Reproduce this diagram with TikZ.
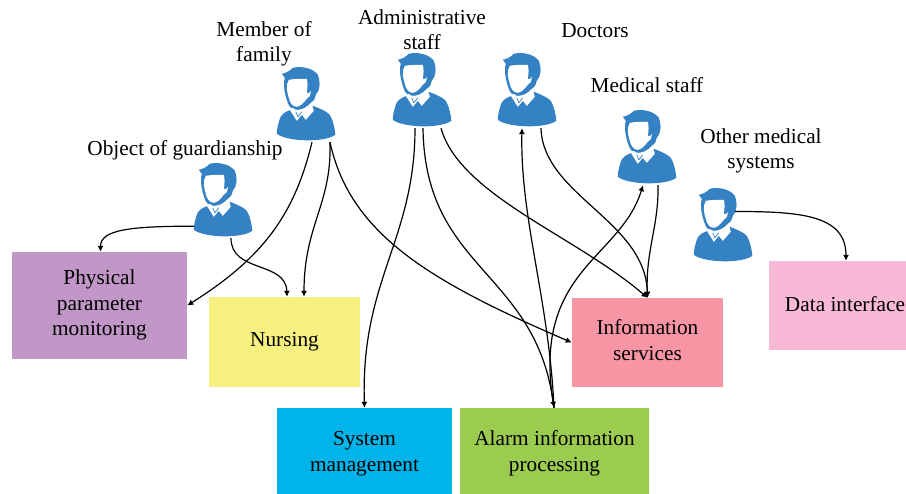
\documentclass[tikz,border=0pt]{standalone}
\usepackage{fontspec}
\setmainfont{Liberation Serif}
\usetikzlibrary{arrows.meta}
\tikzset{pics/personicon/.style={code={
  \fill[iconblue] (5,7) .. controls (10,6) and (13,4) .. (16,1) .. controls (24,-1) and (36,1) .. (41,8)
    .. controls (44,16) and (43,24) .. (39,28) .. controls (38,33) and (36,35) .. (34,36)
    .. controls (29,41) and (25,43) .. (21,43) .. controls (15,43) and (12,40) .. (11,36)
    .. controls (8,28) and (6,18) .. (8,11) -- cycle;
  \fill[white] (12,13) .. controls (18,12) and (25,12) .. (30,12) .. controls (31,16) and (31,20) .. (30,26)
    .. controls (32,27) and (33,26) .. (34,24) .. controls (34,29) and (32,31) .. (30,32)
    .. controls (27,36) and (23,40) .. (20,40) .. controls (15,40) and (13,35) .. (12,31)
    .. controls (10,25) and (9,18) .. (12,13) -- cycle;
  \fill[iconblue] (14,43) .. controls (8,45) and (4,48) .. (3,52) .. controls (1,58) and (0,63) .. (0,67)
    .. controls (10,75) and (48,76) .. (58.5,68) .. controls (58,60) and (55,50) .. (52,47)
    .. controls (47,43) and (41,41) .. (36,39) -- (25,44) -- (19,44) -- cycle;
  \fill[white] (13,43) -- (20,54) -- (25,48) -- (29,53) -- (37,44) -- (35,37) -- (27,42) -- (19,44) -- (16,41) -- cycle;
  \draw[iconblue,line width=0.7] (19,45) -- (21,50) -- (25,45);
}}}
\begin{document}
\begin{tikzpicture}[x=1pt,y=-1pt]
\definecolor{iconblue}{HTML}{3481C4}
\definecolor{purplebox}{HTML}{C197C7}
\definecolor{yellowbox}{HTML}{F5F080}
\definecolor{bluebox}{HTML}{00B3E8}
\definecolor{greenbox}{HTML}{9BCC50}
\definecolor{redbox}{HTML}{F795A5}
\definecolor{pinkbox}{HTML}{F7B9D5}
\tikzstyle{person}=[rectangle,minimum width=60pt,minimum height=75pt,inner sep=0pt]
\tikzstyle{block}=[rectangle,inner sep=0pt]
\tikzstyle{caption}=[inner sep=0pt,align=center,font=\fontsize{21.3}{25.5}\selectfont]
\tikzstyle{edge}=[draw,line width=1.2pt,-{Latex[length=6pt,width=6pt]}]
\useasboundingbox (0,0) rectangle (906,494);
\node[block,fill=purplebox,minimum width=175pt,minimum height=107pt] (monitoring) at (99.5,305.5) {};
\node[caption] (monitoringtext) at (99.5,305) {Physical\\parameter\\monitoring};
\node[block,fill=yellowbox,minimum width=151pt,minimum height=90pt] (nursing) at (284.5,342) {};
\node[caption] (nursingtext) at (284.5,342) {Nursing};
\node[block,fill=bluebox,minimum width=175pt,minimum height=86pt] (management) at (364.5,451) {};
\node[caption] (managementtext) at (364.5,453.5) {System\\management};
\node[block,fill=greenbox,minimum width=189pt,minimum height=86pt] (alarm) at (554.5,451) {};
\node[caption] (alarmtext) at (554.5,453.5) {Alarm information\\processing};
\node[block,fill=redbox,minimum width=151pt,minimum height=89pt] (services) at (647.5,342.5) {};
\node[caption] (servicestext) at (647.5,340) {Information\\services};
\node[block,fill=pinkbox,minimum width=137pt,minimum height=89pt] (interface) at (837.5,305.5) {};
\node[caption] (interfacetext) at (845,304) {Data interface};
\node[person] (guardian) at (224,200.5) {};
\node[person] (family) at (307,104.5) {};
\node[person] (admin) at (423,90.5) {};
\node[person] (doctors) at (528,90.5) {};
\node[person] (medical) at (648,147.5) {};
\node[person] (other) at (724,225.5) {};
\pic at (guardian.north west) {personicon};
\pic at (family.north west) {personicon};
\pic at (admin.north west) {personicon};
\pic at (doctors.north west) {personicon};
\pic at (medical.north west) {personicon};
\pic at (other.north west) {personicon};
\node[caption] (guardianlabel) at (185,150.5) {Object of guardianship};
\node[caption] (familylabel) at (264,44) {Member of\\family};
\node[caption] (adminlabel) at (422,29.5) {Administrative\\staff};
\node[caption] (doctorslabel) at (595,31) {Doctors};
\node[caption] (medicallabel) at (647,85) {Medical staff};
\node[caption] (otherlabel) at (761,151) {Other medical\\systems};
\path[edge] ([yshift=12pt]guardian.south west) .. controls +(-64,0) and +(0,-22) .. ([xshift=1pt]monitoring.north);
\path[edge] ([xshift=7pt]guardian.south) .. controls +(0,35) and +(-1,-36) .. ([xshift=2.5pt]nursing.north);
\path[edge] ([xshift=5pt]family.south) .. controls +(-17,70) and +(78,-49) .. (monitoring.east);
\path[edge] ([xshift=23pt]family.south) .. controls +(2,62) and +(0,-72) .. ([xshift=19.5pt]nursing.north);
\path[edge] ([xshift=23pt]family.south) .. controls +(20,92) and +(-142,-61) .. (services.west);
\path[edge] ([xshift=-8pt]admin.south) .. controls +(0,112) and +(-4,-128) .. (management.north);
\path[edge] (admin.south) .. controls +(2,142) and +(-19,-138) .. ([xshift=-0.5pt]alarm.north);
\path[edge] ([xshift=18pt]admin.south) .. controls +(19,67) and +(-72,-62) .. (services.north);
\path[edge] ([xshift=13pt]doctors.south) .. controls +(2,67) and +(-2,-77) .. (services.north);
\path[edge] ([xshift=-0.5pt]alarm.north) .. controls +(-5,-108) and +(-2,90) .. ([xshift=-6pt]doctors.south);
\path[edge] ([xshift=-0.5pt]alarm.north) .. controls +(-24,-138) and +(-23,75) .. ([xshift=-5pt]medical.south);
\path[edge] ([xshift=10pt]medical.south) .. controls +(1,40) and +(-2,-47) .. (services.north);
\path[edge] ([xshift=11pt,yshift=14pt]other.center) .. controls +(65,0) and +(0,-46) .. ([xshift=8.5pt]interface.north);
\end{tikzpicture}
\end{document}
